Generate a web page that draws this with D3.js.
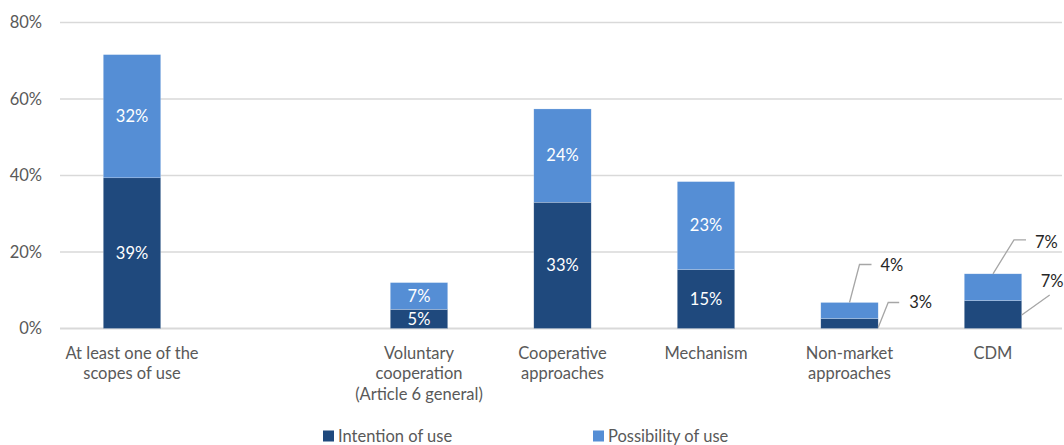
<!DOCTYPE html>
<html>
<head>
<meta charset="utf-8">
<script src="https://cdn.jsdelivr.net/npm/d3@7"></script>
<style>
  body { margin: 0; background: #fff; }
  text { font-family: Lato, "Noto Sans", sans-serif; }
</style>
</head>
<body>
<div id="chart"></div>
<script>
// chart values
var categories = ["At least one of the|scopes of use", "", "Voluntary|cooperation|(Article 6 general)",
  "Cooperative|approaches", "Mechanism", "Non-market|approaches", "CDM"];
var intention = [39.4, null, 5, 33, 15.4, 2.6, 7.3];
var possibility = [32.2, null, 7, 24.4, 23, 4.2, 7];
var seriesNames = ["Intention of use", "Possibility of use"];
var yTicks = [0, 20, 40, 60, 80];

// labels that sit outside the bar with a leader line (category index)
var outsideLabels = [5, 6];

var width = 1064, height = 445;
var margin = {top: 22.5, right: 0, bottom: 116.5, left: 60};

var svg = d3.select("#chart").append("svg")
    .attr("width", width)
    .attr("height", height);

var x = d3.scaleBand()
    .domain(d3.range(categories.length))
    .range([60.25, 1064.75])
    .paddingInner(0.6)
    .paddingOuter(0.3);

var y = d3.scaleLinear()
    .domain([0, 80])
    .range([height - margin.bottom, margin.top]);

var z = d3.scaleOrdinal()
    .domain(seriesNames)
    .range(["#1f497d", "#558ed5"]);

// gridlines
svg.append("g")
  .selectAll("line")
  .data(yTicks)
  .enter().append("line")
    .attr("x1", 60)
    .attr("x2", 1062)
    .attr("y1", function(d) { return y(d); })
    .attr("y2", function(d) { return y(d); })
    .attr("stroke", "#d9d9d9")
    .attr("stroke-width", function(d) { return d === 0 ? 2 : 1.5; });

// y axis labels
var yAxis = svg.append("g")
    .attr("transform", "translate(42,0)")
    .call(d3.axisLeft(y).tickValues(yTicks).tickSize(0).tickPadding(0)
      .tickFormat(function(d) { return d + "%"; }));
yAxis.select(".domain").remove();
yAxis.selectAll("text")
    .attr("fill", "#595959")
    .style("font-size", "16.5px")
    .style("font-family", "Lato, sans-serif");

// stacked data
var rows = categories.map(function(c, i) {
  return {i: i, "Intention of use": intention[i] || 0, "Possibility of use": possibility[i] || 0, empty: intention[i] == null};
});
var stacked = d3.stack().keys(seriesNames)(rows);

var layer = svg.append("g")
  .selectAll("g")
  .data(stacked)
  .enter().append("g")
    .attr("fill", function(d) { return z(d.key); });

layer.selectAll("rect")
  .data(function(d) { return d.filter(function(p) { return !p.data.empty; }); })
  .enter().append("rect")
    .attr("x", function(d) { return x(d.data.i); })
    .attr("y", function(d) { return y(d[1]); })
    .attr("width", x.bandwidth())
    .attr("height", function(d) { return y(d[0]) - y(d[1]); })
    .attr("stroke", "#fff")
    .attr("stroke-width", 0.5)
    .attr("stroke-opacity", 0.4);

// inside labels
stacked.forEach(function(s) {
  svg.append("g")
    .selectAll("text")
    .data(s.filter(function(p) { return !p.data.empty && outsideLabels.indexOf(p.data.i) < 0; }))
    .enter().append("text")
      .attr("x", function(d) { return x(d.data.i) + x.bandwidth() / 2; })
      .attr("y", function(d) { return (y(d[0]) + y(d[1])) / 2; })
      .attr("dy", "0.35em")
      .attr("text-anchor", "middle")
      .attr("fill", "#fff")
      .style("font-size", "16.5px")
      .text(function(d) { return Math.round(d[1] - d[0]) + "%"; });
});

// outside labels with leader lines: anchor on bar (ax: share of bar width, ay: px above segment base),
// elbow offset, tail length, text offset from elbow
var leaders = {
  "5-Possibility of use": {ax: 0.5, ay: "top", ex: 10, ey: -38, tail: 12, tx: 31, ty: 1},
  "5-Intention of use": {ax: 1, ay: 1, ex: 10, ey: -25, tail: 11, tx: 31, ty: 0},
  "6-Possibility of use": {ax: 0.5, ay: "top", ex: 21, ey: -34, tail: 12, tx: 42, ty: 2},
  "6-Intention of use": {ax: 1, ay: 13.5, ex: 28, ey: -20, tail: 0, tx: 19, ty: -14}
};

var outG = svg.append("g");
stacked.forEach(function(s) {
  s.forEach(function(p) {
    if (outsideLabels.indexOf(p.data.i) < 0) return;
    var L = leaders[p.data.i + "-" + s.key];
    var x0 = x(p.data.i) + L.ax * x.bandwidth();
    var y0 = L.ay === "top" ? y(p[1]) : y(p[0]) - L.ay;
    var pts = [[x0, y0], [x0 + L.ex, y0 + L.ey], [x0 + L.ex + L.tail, y0 + L.ey]];
    outG.append("path")
      .attr("d", d3.line()(pts))
      .attr("fill", "none")
      .attr("stroke", "#a6a6a6")
      .attr("stroke-width", 1.3);
    outG.append("text")
      .attr("x", x0 + L.tx)
      .attr("y", y0 + L.ey + L.ty)
      .attr("dy", "0.35em")
      .attr("fill", "#262626")
      .style("font-size", "16.5px")
      .text(Math.round(p[1] - p[0]) + "%");
  });
});

// category labels
var xAxis = svg.append("g");
categories.forEach(function(c, i) {
  if (!c) return;
  var t = xAxis.append("text")
    .attr("x", x(i) + x.bandwidth() / 2)
    .attr("y", 353)
    .attr("text-anchor", "middle")
    .attr("fill", "#595959")
    .style("font-size", "16.5px");
  c.split("|").forEach(function(line, j) {
    t.append("tspan")
      .attr("x", x(i) + x.bandwidth() / 2)
      .attr("y", 353 + j * 20.6)
      .attr("dy", "0.35em")
      .text(line);
  });
});

// legend
var legend = svg.append("g")
  .selectAll("g")
  .data(seriesNames)
  .enter().append("g")
    .attr("transform", function(d, i) { return "translate(" + (323 + i * 270) + ",430.5)"; });

legend.append("rect")
    .attr("width", 11)
    .attr("height", 11)
    .attr("fill", z);

legend.append("text")
    .attr("x", 15)
    .attr("y", 6)
    .attr("dy", "0.35em")
    .attr("fill", "#595959")
    .style("font-size", "16.5px")
    .text(function(d) { return d; });
</script>
</body>
</html>
